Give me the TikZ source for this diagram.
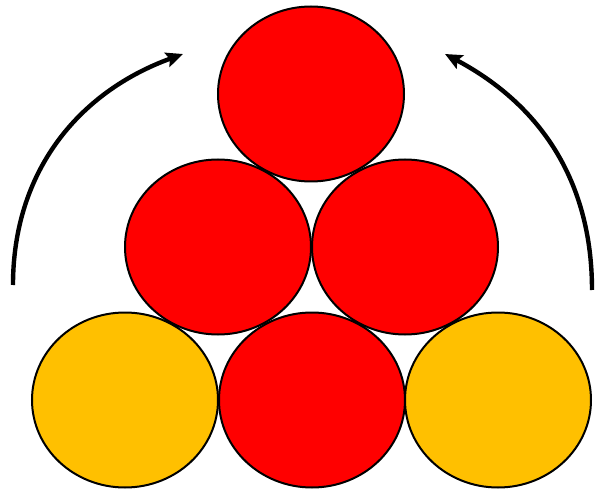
\documentclass[tikz,border=0pt]{standalone}
\usetikzlibrary{shapes.geometric,arrows.meta}
\definecolor{ballred}{HTML}{FF0000}
\definecolor{ballyellow}{HTML}{FFC000}
\tikzset{
  ball/.style={ellipse, draw=black, line width=2pt, minimum width=186pt, minimum height=175pt, inner sep=0pt},
  redball/.style={ball, fill=ballred},
  yellowball/.style={ball, fill=ballyellow},
  turnarrow/.style={line width=4.4pt, -{Stealth[length=17pt,width=15pt,inset=3pt]}}
}
\begin{document}
\begin{tikzpicture}[x=1pt,y=1pt]
\useasboundingbox (0,0) rectangle (595,491);
% bottom row
\node[yellowball] (bl) at (125,91) {};
\node[redball] (bm) at (312,91) {};
\node[yellowball] (br) at (498,91) {};
% middle row
\node[redball] (ml) at (218,244) {};
\node[redball] (mr) at (405,244) {};
% top
\node[redball] (t) at (311,397) {};
% arrows
\coordinate (la) at (13,206);
\coordinate (lb) at (183,437);
\coordinate (ra) at (592,201);
\coordinate (rb) at (445,437);
\draw[turnarrow] (la) to[out=90,in=200] (lb);
\draw[turnarrow] (ra) to[out=90,in=-28] (rb);
\end{tikzpicture}
\end{document}
